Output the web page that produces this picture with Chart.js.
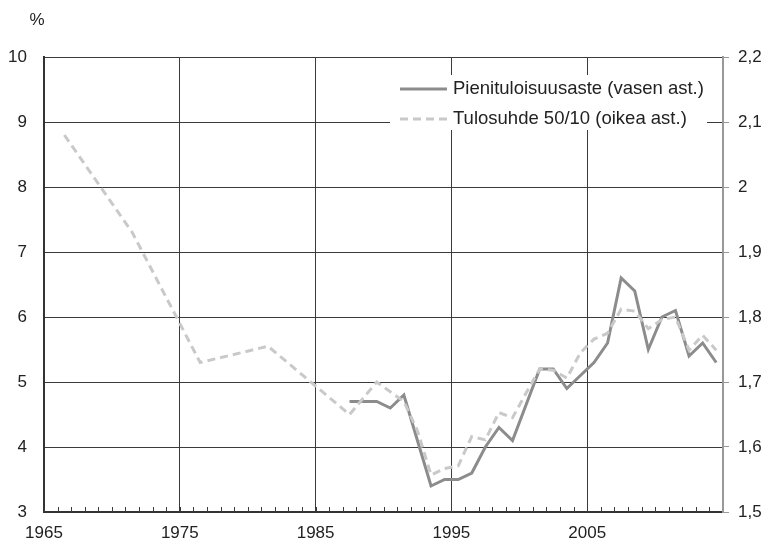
<!DOCTYPE html>
<html>
<head>
<meta charset="utf-8">
<script src="https://cdn.jsdelivr.net/npm/chart.js@4.4.1/dist/chart.umd.min.js"></script>
<style>
  html, body { margin: 0; padding: 0; background: #fff; }
  #wrap { width: 766px; height: 541px; position: relative; }
</style>
</head>
<body>
<div id="wrap"><canvas id="incomeChart"></canvas></div>
<script>
// Years on the category axis
const years = [
    1965, 1966, 1967, 1968, 1969, 1970, 1971, 1972, 1973, 1974,
    1975, 1976, 1977, 1978, 1979, 1980, 1981, 1982, 1983, 1984,
    1985, 1986, 1987, 1988, 1989, 1990, 1991, 1992, 1993, 1994,
    1995, 1996, 1997, 1998, 1999, 2000, 2001, 2002, 2003, 2004,
    2005, 2006, 2007, 2008, 2009, 2010, 2011, 2012, 2013, 2014
];

// Pienituloisuusaste, % (left axis)
const lowIncomeRate = [
    null, null, null, null, null, null, null, null, null, null,
    null, null, null, null, null, null, null, null, null, null,
    null, null, 4.7, 4.7, 4.7, 4.6, 4.8, 4.1, 3.4, 3.5,
    3.5, 3.6, 4.0, 4.3, 4.1, 4.65, 5.2, 5.2, 4.9, 5.1,
    5.3, 5.6, 6.6, 6.4, 5.5, 6.0, 6.1, 5.4, 5.6, 5.3
];

// Tulosuhde 50/10 (right axis)
const incomeRatio = [
    null, 2.08, null, null, null, null, 1.93, null, null, null,
    null, 1.73, null, null, null, null, 1.755, null, null, null,
    null, null, 1.65, 1.675, 1.70, 1.685, 1.67, 1.625, 1.557, 1.567,
    1.571, 1.616, 1.611, 1.653, 1.645, 1.683, 1.72, 1.718, 1.706, 1.745,
    1.766, 1.775, 1.812, 1.809, 1.782, 1.796, 1.80, 1.749, 1.772, 1.749
];

const seriesLabels = ['Pienituloisuusaste (vasen ast.)', 'Tulosuhde 50/10 (oikea ast.)'];
const leftTicks = { min: 3, max: 10, step: 1 };
const rightTicks = { min: 1.5, max: 2.2, step: 0.1 };

const FONT = 'Liberation Sans, Arial, sans-serif';
const GRID = '#3a3a3a';

// inner yearly tick marks, % sign and inside legend
const extras = {
    id: 'extras',
    afterDraw(chart) {
        const c = chart.ctx;
        const xs = chart.scales.x;
        const area = chart.chartArea;
        const half = (xs.getPixelForTick(1) - xs.getPixelForTick(0)) / 2;
        c.save();
        c.strokeStyle = GRID;
        c.lineWidth = 1;
        for (let i = 0; i < years.length; i++) {
            const x = Math.round(xs.getPixelForTick(i) - half) + 0.5;
            c.beginPath();
            c.moveTo(x, area.bottom);
            c.lineTo(x, area.bottom - 5);
            c.stroke();
        }

        c.fillStyle = '#222';
        c.font = '17px ' + FONT;
        c.textAlign = 'center';
        c.textBaseline = 'middle';
        c.fillText('%', 37, 20);

        // legend box
        const bx = area.right - 333, by = area.top + 18, bw = 317, bh = 55;
        c.fillStyle = '#fff';
        c.fillRect(bx, by, bw, bh);
        c.font = '18.5px ' + FONT;
        c.textAlign = 'left';
        chart.data.datasets.forEach((ds, i) => {
            const y = by + 14 + i * 30;
            c.strokeStyle = ds.borderColor;
            c.lineWidth = ds.borderWidth;
            c.setLineDash(ds.borderDash || []);
            c.beginPath();
            c.moveTo(bx + 10, y);
            c.lineTo(bx + 57, y);
            c.stroke();
            c.setLineDash([]);
            c.fillStyle = '#222';
            c.fillText(ds.label, bx + 63, y);
        });
        c.restore();
    }
};

const ctx = document.getElementById('incomeChart').getContext('2d');
new Chart(ctx, {
    type: 'line',
    data: {
        labels: years,
        datasets: [
            {
                label: seriesLabels[0],
                data: lowIncomeRate,
                yAxisID: 'y',
                borderColor: '#8c8c8c',
                borderWidth: 3,
                pointRadius: 0,
                tension: 0,
                spanGaps: false,
                order: 1
            },
            {
                label: seriesLabels[1],
                data: incomeRatio,
                yAxisID: 'y2',
                borderColor: '#c9c9c9',
                borderWidth: 3,
                borderDash: [8, 5],
                pointRadius: 0,
                tension: 0,
                spanGaps: true,
                order: 0
            }
        ]
    },
    options: {
        responsive: true,
        maintainAspectRatio: false,
        animation: false,
        layout: { padding: { top: 57, left: 0, right: 0, bottom: 0 } },
        plugins: {
            legend: { display: false },
            tooltip: { enabled: false }
        },
        scales: {
            x: {
                type: 'category',
                offset: true,
                grid: {
                    offset: true,
                    drawTicks: false,
                    color: (c) => (c.index !== undefined && c.index % 10 === 0) ? GRID : 'rgba(0,0,0,0)',
                    lineWidth: 1
                },
                border: { color: '#333', width: 2 },
                ticks: {
                    autoSkip: false,
                    maxRotation: 0,
                    padding: 11,
                    labelOffset: -6.8,
                    color: '#222',
                    font: { family: FONT, size: 17 },
                    callback: function(value) {
                        const yr = this.getLabelForValue(value);
                        return (yr - 1965) % 10 === 0 ? String(yr) : '';
                    }
                },
                afterFit: (s) => { s.height = 29; }
            },
            y: {
                position: 'left',
                min: leftTicks.min,
                max: leftTicks.max,
                grid: { color: GRID, lineWidth: 1, drawTicks: false },
                border: { color: '#333', width: 2 },
                ticks: {
                    stepSize: leftTicks.step,
                    padding: 17,
                    color: '#222',
                    font: { family: FONT, size: 17 }
                },
                afterFit: (s) => { s.width = 44; }
            },
            y2: {
                position: 'right',
                min: rightTicks.min,
                max: rightTicks.max,
                grid: { drawOnChartArea: false, color: '#999', tickLength: 6 },
                border: { color: '#999', width: 2 },
                ticks: {
                    stepSize: rightTicks.step,
                    padding: 9,
                    color: '#222',
                    font: { family: FONT, size: 17 },
                    callback: (v) => String(Number(v.toFixed(1))).replace('.', ',')
                },
                afterFit: (s) => { s.width = 43; }
            }
        }
    },
    plugins: [extras]
});
</script>
</body>
</html>
